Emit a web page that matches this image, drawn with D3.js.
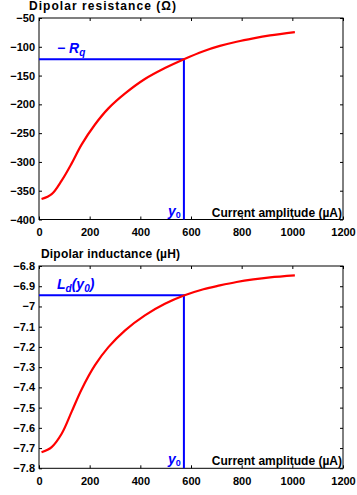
<!DOCTYPE html>
<html>
<head>
<meta charset="utf-8">
<script src="https://cdn.jsdelivr.net/npm/d3@7"></script>
<style>
  body { margin: 0; background: #fff; }
  svg { display: block; }
  text { font-family: "Liberation Sans", Arial, sans-serif; font-weight: bold; }
</style>
</head>
<body>
<svg width="357" height="495"></svg>
<script>
  // Current amplitude (µA)
  const current = [10, 50, 90, 129, 168, 221, 274, 340, 418, 497, 572, 649, 714, 780, 846, 912, 1010];
  // Dipolar resistance (Ω)
  const resistance = [-364.5, -356, -332, -302.5, -270, -235, -207, -181, -156, -137, -121.5, -107.6, -98.5, -91.2, -85.3, -80.3, -74.6];
  // Dipolar inductance (µH)
  const inductance = [-7.721, -7.695, -7.628, -7.52, -7.41, -7.29, -7.201, -7.118, -7.044, -6.987, -6.946, -6.915, -6.896, -6.879, -6.866, -6.856, -6.846];

  // operating point
  const y0 = 572;
  const minusRq = -121.5;
  const LdY0 = -6.945;

  const xTicks = [0, 200, 400, 600, 800, 1000, 1200];
  const xTickLabels = ['0', '200', '400', '600', '800', '1000', '1200'];
  const rTicks = [-400, -350, -300, -250, -200, -150, -100, -50];
  const rTickLabels = ['\u2212400', '\u2212350', '\u2212300', '\u2212250', '\u2212200', '\u2212150', '\u2212100', '\u221250'];
  const lTicks = [-7.8, -7.7, -7.6, -7.5, -7.4, -7.3, -7.2, -7.1, -7, -6.9, -6.8];
  const lTickLabels = ['\u22127.8', '\u22127.7', '\u22127.6', '\u22127.5', '\u22127.4', '\u22127.3', '\u22127.2', '\u22127.1', '\u22127', '\u22126.9', '\u22126.8'];

  const svg = d3.select('svg');

  const panel = (props) => {
    const { xs, ys, yDomain, top, bottom, yTicks, yLabels, title, titleX, titleW, yRef, refLabel } = props;

    const x = d3.scaleLinear().domain([0, 1200]).range([39, 343]);
    const y = d3.scaleLinear().domain(yDomain).range([bottom, top]);
    const g = svg.append('g');

    // axes with inward ticks
    g.append('g')
      .attr('transform', `translate(0,${bottom})`)
      .call(d3.axisBottom(x).tickValues(xTicks)
        .tickFormat((d, i) => xTickLabels[i])
        .tickSizeInner(-3).tickSizeOuter(0).tickPadding(9));
    g.append('g')
      .attr('transform', `translate(0,${top})`)
      .call(d3.axisTop(x).tickValues(xTicks).tickFormat('')
        .tickSizeInner(-3).tickSizeOuter(0));
    g.append('g')
      .attr('transform', 'translate(39,0)')
      .call(d3.axisLeft(y).tickValues(yTicks)
        .tickFormat((d, i) => yLabels[i])
        .tickSizeInner(-3).tickSizeOuter(0).tickPadding(4));
    g.append('g')
      .attr('transform', 'translate(343,0)')
      .call(d3.axisRight(y).tickValues(yTicks).tickFormat('')
        .tickSizeInner(-3).tickSizeOuter(0));

    g.selectAll('.domain').remove();
    g.selectAll('.tick line').attr('stroke', '#000');
    g.selectAll('.tick text')
      .attr('fill', '#000')
      .style('font-size', '11px');

    // box
    g.append('rect')
      .attr('x', 39).attr('y', top)
      .attr('width', 304).attr('height', bottom - top)
      .attr('fill', 'none').attr('stroke', '#000').attr('stroke-width', 1);

    // title
    g.append('text')
      .attr('x', titleX).attr('y', top - 8)
      .attr('textLength', titleW).attr('lengthAdjust', 'spacing')
      .style('font-size', '12px')
      .text(title);

    // x label
    g.append('text')
      .attr('x', 342).attr('y', bottom - 3)
      .attr('text-anchor', 'end')
      .style('font-size', '12px')
      .text('Current amplitude (\u00b5A)');

    // operating point guides
    const guide = d3.path();
    guide.moveTo(x(0), y(yRef));
    guide.lineTo(x(y0), y(yRef));
    guide.lineTo(x(y0), bottom);
    g.append('path')
      .attr('d', guide.toString())
      .attr('fill', 'none')
      .attr('stroke', '#0000ff')
      .attr('stroke-width', 2);

    // curve
    const line = d3.line()
      .x((d, i) => x(xs[i]))
      .y(d => y(d))
      .curve(d3.curveCatmullRom.alpha(0.5));
    g.append('path')
      .datum(ys)
      .attr('d', line)
      .attr('fill', 'none')
      .attr('stroke', '#ff0000')
      .attr('stroke-width', 2.2);

    // labels in blue
    const ref = g.append('text')
      .attr('x', 57).attr('y', y(yRef) - 6)
      .attr('fill', '#0000ff')
      .style('font-size', '14px')
      .style('font-style', 'italic');
    refLabel(ref);

    const yl = g.append('text')
      .attr('x', 168).attr('y', bottom - 4)
      .attr('fill', '#0000ff')
      .style('font-size', '14px')
      .style('font-style', 'italic');
    yl.append('tspan').text('y');
    yl.append('tspan').attr('dy', 2).style('font-size', '9px').style('font-style', 'normal').text('0');
  };

  panel({
    xs: current, ys: resistance, yDomain: [-400, -50], top: 18, bottom: 219.5,
    yTicks: rTicks, yLabels: rTickLabels,
    title: 'Dipolar resistance (\u03a9)', titleX: 29, titleW: 147,
    yRef: minusRq,
    refLabel: t => {
      t.append('tspan').text('\u2212 R');
      t.append('tspan').attr('dy', 3).style('font-size', '10px').text('q');
    }
  });

  panel({
    xs: current, ys: inductance, yDomain: [-7.8, -6.8], top: 266, bottom: 468.3,
    yTicks: lTicks, yLabels: lTickLabels,
    title: 'Dipolar inductance (\u00b5H)', titleX: 41, titleW: 139,
    yRef: LdY0,
    refLabel: t => {
      t.append('tspan').text('L');
      t.append('tspan').attr('dy', 3).style('font-size', '10px').text('d');
      t.append('tspan').attr('dy', -3).text('(y');
      t.append('tspan').attr('dy', 3).style('font-size', '10px').text('0');
      t.append('tspan').attr('dy', -3).text(')');
    }
  });
</script>
</body>
</html>
